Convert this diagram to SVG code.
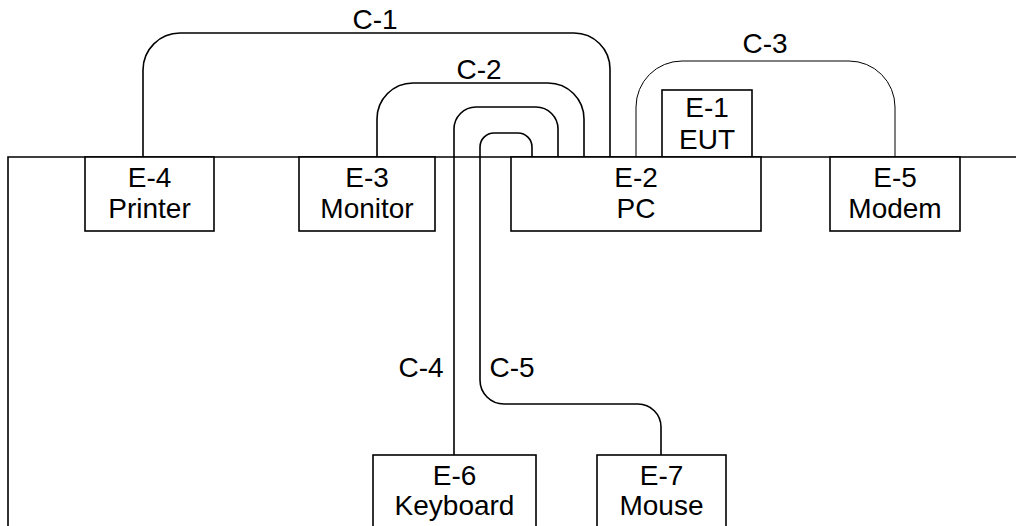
<svg xmlns="http://www.w3.org/2000/svg" width="1016" height="526" viewBox="0 0 1016 526">
<style>
.t{font-family:"Liberation Sans",Arial,sans-serif;font-size:28px;fill:#000;text-anchor:middle}
.box{fill:#fff;stroke:#000;stroke-width:1.6}
.w{fill:none;stroke:#000;stroke-width:1.6}
.thin{fill:none;stroke:#000;stroke-width:1}
</style>
<rect width="1016" height="526" fill="#fff"/>
<g id="table">
<path class="w" d="M8 526 V157 H1016"/>
</g>
<g id="connectors">
<path class="w" d="M143 157 V70 A37 37 0 0 1 180 33 H574 A36 36 0 0 1 610 69 V157"/>
<path class="w" d="M377 157 V119 A36 36 0 0 1 413 83 H548 A36 36 0 0 1 584 119 V157"/>
<path class="thin" d="M636 157 V107 A46 46 0 0 1 682 61 H849 A46 46 0 0 1 895 107 V157"/>
<path class="w" d="M454 455 V129 A22 22 0 0 1 476 107 H536 A22 22 0 0 1 558 129 V157"/>
<path class="w" d="M661 455 V427 A23 23 0 0 0 638 404 H504 A24 24 0 0 1 480 380 V147 A14 14 0 0 1 494 133 H518 A14 14 0 0 1 532 147 V157"/>
<text class="t" x="375" y="29">C-1</text>
<text class="t" x="479" y="79">C-2</text>
<text class="t" x="765" y="53">C-3</text>
<text class="t" x="421" y="377">C-4</text>
<text class="t" x="512" y="377">C-5</text>
</g>
<g id="E-1">
<rect class="box" x="662" y="90" width="90" height="67"/>
<text class="t" x="707" y="117">E-1</text>
<text class="t" x="707" y="149">EUT</text>
</g>
<g id="E-2">
<rect class="box" x="511" y="157" width="250" height="74"/>
<text class="t" x="636" y="186.5">E-2</text>
<text class="t" x="636" y="218">PC</text>
</g>
<g id="E-3">
<rect class="box" x="299" y="157" width="136" height="74"/>
<text class="t" x="367" y="186.5">E-3</text>
<text class="t" x="367" y="218">Monitor</text>
</g>
<g id="E-4">
<rect class="box" x="85" y="157" width="129" height="74"/>
<text class="t" x="149.5" y="186.5">E-4</text>
<text class="t" x="149.5" y="218">Printer</text>
</g>
<g id="E-5">
<rect class="box" x="830" y="157" width="130" height="74"/>
<text class="t" x="895" y="186.5">E-5</text>
<text class="t" x="895" y="218">Modem</text>
</g>
<g id="E-6">
<rect class="box" x="373" y="455" width="163" height="90"/>
<text class="t" x="454.5" y="484.5">E-6</text>
<text class="t" x="454.5" y="515">Keyboard</text>
</g>
<g id="E-7">
<rect class="box" x="597" y="455" width="129" height="90"/>
<text class="t" x="661.5" y="484.5">E-7</text>
<text class="t" x="661.5" y="515">Mouse</text>
</g>
</svg>
